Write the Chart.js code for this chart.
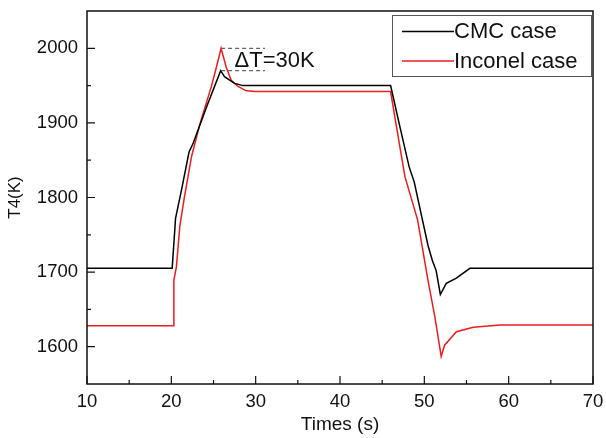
<!DOCTYPE html>
<html>
<head>
<meta charset="utf-8">
<script src="https://cdn.jsdelivr.net/npm/chart.js@4"></script>
<style>
    html, body { margin: 0; padding: 0; background: #fff; }
</style>
</head>
<body>
<canvas id="myChart" width="606" height="438"></canvas>
<script>
// T4 response for both cases
const cmcTime = [10, 20.1, 20.5, 21.2, 22.1, 22.6, 24.2, 25.85, 26.3, 27.5, 28.5, 46, 47.1, 48.2, 48.8, 49.6, 50.45, 50.97, 51.4, 51.9, 52.6, 53.8, 55.4, 70];
const cmcTemp = [1705, 1705, 1772, 1810, 1861, 1873, 1922, 1970, 1962, 1953, 1950, 1950, 1895, 1841, 1821, 1779, 1735, 1715, 1702, 1670, 1685, 1692, 1705, 1705];

const inconelTime = [10, 20.2, 20.3, 20.6, 21.0, 21.5, 22.4, 23.4, 24.75, 25.35, 25.9, 26.5, 27.1, 27.9, 28.9, 30, 46, 47.1, 47.7, 49.2, 50.45, 51.25, 52.0, 52.4, 53.8, 55.8, 59, 70];
const inconelTemp = [1628, 1628, 1689, 1707, 1761, 1797, 1855, 1899, 1949, 1975, 2000, 1975, 1957, 1949, 1943, 1942, 1942, 1868, 1828, 1770, 1688, 1640, 1587, 1602, 1620, 1626, 1629, 1629];

const labels = ["CMC case", "Inconel case"];
const xTicks = [10, 20, 30, 40, 50, 60, 70];
const yTicks = [1600, 1700, 1800, 1900, 2000];

const FONT = "'Liberation Sans', Arial, Helvetica, sans-serif";

const toPoints = (xs, ys) => xs.map((x, i) => ({ x: x, y: ys[i] }));

// Peak overshoot of both cases, used for the dashed ΔT marker
const cmcPeak = Math.max(...cmcTemp);
const inconelPeak = Math.max(...inconelTemp);
const peakTime = inconelTime[inconelTemp.indexOf(inconelPeak)];

// keep the plot box where the layout padding puts it
const noPad = (scale) => {
    scale.paddingTop = 0;
    scale.paddingBottom = 0;
    scale.paddingLeft = 0;
    scale.paddingRight = 0;
};

// Box, inward ticks, legend and ΔT note
const extras = {
    id: "extras",
    afterDatasetsDraw(chart) {
        const { ctx, scales: { x, y } } = chart;
        const x0 = x.getPixelForValue(peakTime);
        const x1 = x.getPixelForValue(31.1);
        ctx.save();
        ctx.strokeStyle = "#666";
        ctx.lineWidth = 1.2;
        ctx.setLineDash([4, 3]);
        ctx.beginPath();
        [inconelPeak, cmcPeak].forEach((v) => {
            const py = y.getPixelForValue(v);
            ctx.moveTo(x0, py);
            ctx.lineTo(x1, py);
        });
        ctx.stroke();
        ctx.setLineDash([]);
        ctx.fillStyle = "#111";
        ctx.font = "22px " + FONT;
        ctx.textAlign = "left";
        ctx.textBaseline = "middle";
        ctx.fillText("ΔT=" + (inconelPeak - cmcPeak) + "K", x.getPixelForValue(27.5), y.getPixelForValue((inconelPeak + cmcPeak) / 2) + 1);
        ctx.restore();
    },
    afterDraw(chart) {
        const { ctx, chartArea: a, scales: { x, y } } = chart;
        ctx.save();
        ctx.strokeStyle = "#111";
        ctx.lineWidth = 1.5;
        ctx.strokeRect(a.left, a.top, a.right - a.left, a.bottom - a.top);

        ctx.lineWidth = 1.2;
        ctx.beginPath();
        const xHalf = (xTicks[1] - xTicks[0]) / 2;
        xTicks.forEach((v, i) => {
            const px = x.getPixelForValue(v);
            ctx.moveTo(px, a.bottom);
            ctx.lineTo(px, a.bottom - 8);
            if (i < xTicks.length - 1) {
                const mx = x.getPixelForValue(v + xHalf);
                ctx.moveTo(mx, a.bottom);
                ctx.lineTo(mx, a.bottom - 4);
            }
        });
        const yHalf = (yTicks[1] - yTicks[0]) / 2;
        yTicks.forEach((v) => {
            const py = y.getPixelForValue(v);
            ctx.moveTo(a.left, py);
            ctx.lineTo(a.left + 8, py);
            [v - yHalf, v + yHalf].forEach((m) => {
                if (m > y.min && m < y.max) {
                    const my = y.getPixelForValue(m);
                    ctx.moveTo(a.left, my);
                    ctx.lineTo(a.left + 4, my);
                }
            });
        });
        ctx.stroke();

        // legend box
        const bx = 392, by = 15, bw = 199, bh = 61;
        ctx.fillStyle = "#fff";
        ctx.fillRect(bx, by, bw, bh);
        ctx.strokeStyle = "#555";
        ctx.lineWidth = 1;
        ctx.strokeRect(bx + 0.5, by + 0.5, bw, bh);
        ctx.font = "22px " + FONT;
        ctx.textAlign = "left";
        ctx.textBaseline = "middle";
        chart.data.datasets.forEach((ds, i) => {
            const ry = by + 16.5 + i * 29.5;
            ctx.strokeStyle = ds.borderColor;
            ctx.lineWidth = 1.5;
            ctx.beginPath();
            ctx.moveTo(bx + 10, ry);
            ctx.lineTo(bx + 62, ry);
            ctx.stroke();
            ctx.fillStyle = "#111";
            ctx.fillText(ds.label, bx + 62, ry + 0.5);
        });
        ctx.restore();
    },
};

const ctx = document.getElementById("myChart");

new Chart(ctx, {
    type: "scatter",
    data: {
        datasets: [
            {
                label: labels[0],
                data: toPoints(cmcTime, cmcTemp),
                borderColor: "#000",
                borderWidth: 1.5,
                showLine: true,
                pointRadius: 0,
                tension: 0,
            },
            {
                label: labels[1],
                data: toPoints(inconelTime, inconelTemp),
                borderColor: "#ee1c1c",
                borderWidth: 1.5,
                showLine: true,
                pointRadius: 0,
                tension: 0,
            },
        ],
    },
    options: {
        responsive: false,
        animation: false,
        layout: { padding: { top: 11, right: 13, left: 0, bottom: 0 } },
        plugins: {
            legend: { display: false },
            tooltip: { enabled: false },
        },
        scales: {
            x: {
                type: "linear",
                min: 10,
                max: 70,
                afterBuildTicks: (scale) => { scale.ticks = xTicks.map((v) => ({ value: v })); },
                afterFit: (scale) => { scale.height = 54; noPad(scale); },
                grid: { display: false, drawTicks: false },
                border: { display: false },
                ticks: {
                    color: "#111",
                    padding: 7,
                    maxRotation: 0,
                    font: { family: FONT, size: 18.5 },
                    callback: (v) => String(v),
                },
                title: {
                    display: true,
                    text: "Times (s)",
                    color: "#111",
                    padding: { top: 0, bottom: 2 },
                    font: { family: FONT, size: 19 },
                },
            },
            y: {
                min: 1550,
                max: 2050,
                afterBuildTicks: (scale) => { scale.ticks = yTicks.map((v) => ({ value: v })); },
                afterFit: (scale) => { scale.width = 87; noPad(scale); },
                grid: { display: false, drawTicks: false },
                border: { display: false },
                ticks: {
                    color: "#111",
                    padding: 9,
                    font: { family: FONT, size: 18.5 },
                    callback: (v) => String(v),
                },
                title: {
                    display: true,
                    text: "T4(K)",
                    color: "#111",
                    padding: { top: 5, bottom: 0 },
                    font: { family: FONT, size: 17 },
                },
            },
        },
    },
    plugins: [extras],
});
</script>
</body>
</html>
